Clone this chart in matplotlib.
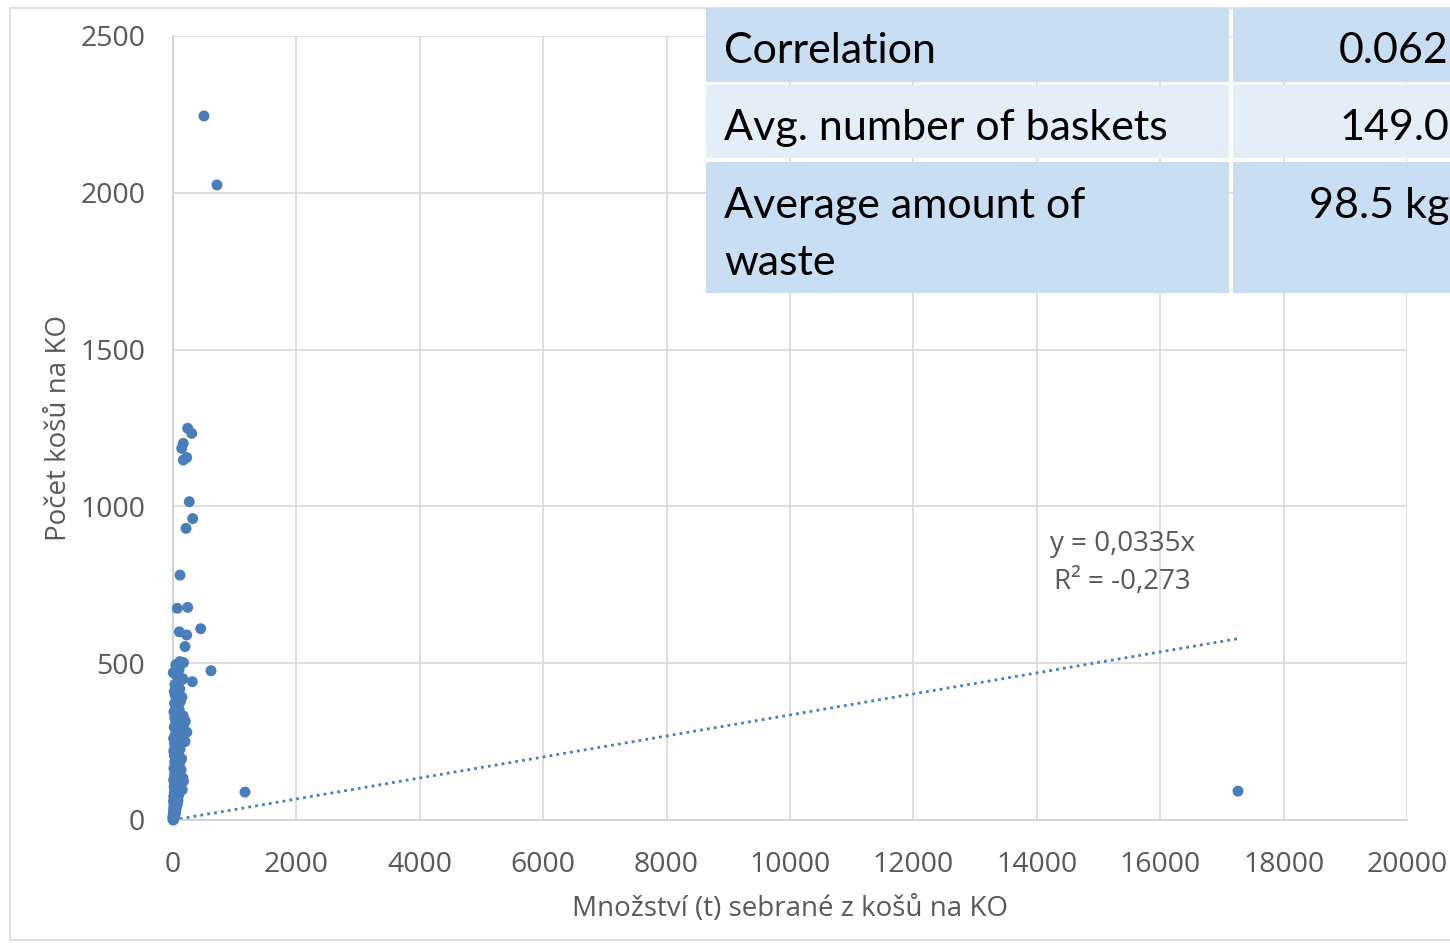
import matplotlib
matplotlib.use("Agg")
import matplotlib.pyplot as plt
from matplotlib.patches import Rectangle

# ---- data ----
outlier_x = [502, 713, 1167, 17261]
outlier_y = [2245, 2025, 89, 92]

mid_x = [238, 303, 167, 141, 222, 167, 264, 319, 211, 113, 70, 238, 449, 103, 222, 195, 616, 313, 157]
mid_y = [1249, 1233, 1201, 1185, 1156, 1148, 1015, 961, 930, 781, 675, 678, 610, 600, 590, 553, 476, 441, 451]

dense_x = [5, 10, 15, 20, 3, 25, 8, 30, 12, 40, 6, 18, 35, 50, 10, 22, 45, 60, 15, 28,
           70, 38, 55, 8, 80, 25, 42, 65, 12, 90, 33, 50, 20, 75, 100, 150, 40, 62, 18, 85,
           30, 120, 55, 170, 10, 45, 160, 70, 25, 95, 35, 58, 130, 15, 80, 48, 105, 28, 65, 140,
           40, 20, 88, 55, 12, 115, 35, 70, 25, 195, 50, 10, 150, 78, 38, 225, 60, 110, 20, 90,
           175, 45, 200, 130, 30, 165, 70, 15, 100, 50, 80, 25, 120, 60, 145, 35, 85, 20, 110, 55,
           30, 150, 70, 20, 5, 100, 60, 90, 140, 170, 110, 45, 2, 4, 1, 6, 3, 2]
dense_y = [0, 2, 5, 8, 10, 12, 15, 18, 20, 22, 25, 28, 30, 33, 36, 40, 42, 45, 48, 50,
           52, 55, 58, 60, 62, 65, 68, 72, 75, 78, 80, 84, 88, 90, 93, 96, 98, 102, 106, 110,
           115, 118, 122, 124, 128, 132, 134, 138, 142, 146, 150, 155, 160, 165, 170, 175, 180, 185, 190, 195,
           200, 206, 210, 215, 220, 226, 232, 238, 244, 250, 255, 260, 262, 268, 272, 280, 285, 290, 295, 300,
           305, 310, 315, 320, 325, 332, 338, 345, 352, 358, 365, 372, 378, 385, 392, 398, 404, 410, 418, 425,
           432, 448, 458, 468, 470, 480, 490, 498, 500, 502, 505, 495, 1, 3, 6, 4, 9, 14]

slope = 0.0335
eq_text = "y = 0,0335x\nR² = -0,273"

x_ticks = [0, 2000, 4000, 6000, 8000, 10000, 12000, 14000, 16000, 18000, 20000]
y_ticks = [0, 500, 1000, 1500, 2000, 2500]

table_labels = [["Correlation"], ["Avg. number of baskets"], ["Average amount of", "waste"]]
table_values = ["0.062", "149.0", "98.5 kg"]

# ---- figure ----
W, H = 1450, 943
fig = plt.figure(figsize=(W / 100, H / 100), dpi=100)

def fx(px):
    return px / W

def fy(py):
    return 1 - py / H

# outer chart border
fig.add_artist(Rectangle((fx(10), fy(940)), fx(1460) - fx(10), fy(8) - fy(940),
                         transform=fig.transFigure, fill=False, edgecolor="#d9d9d9", lw=1.2))

ax = fig.add_axes([fx(173), fy(820), fx(1407) - fx(173), fy(36) - fy(820)])
ax.set_xlim(0, 20000)
ax.set_ylim(0, 2500)
ax.set_xticks(x_ticks)
ax.set_yticks(y_ticks)
ax.grid(True, color="#d9d9d9", lw=1.2)
ax.set_axisbelow(True)
for s in ["top", "right"]:
    ax.spines[s].set_visible(False)
for s in ["left", "bottom"]:
    ax.spines[s].set_color("#d0d0d0")
    ax.spines[s].set_linewidth(1.2)
ax.tick_params(axis="x", length=0, pad=22, labelsize=20.5, labelcolor="#595959")
ax.tick_params(axis="y", length=0, pad=20, labelsize=20.5, labelcolor="#595959")
for lab in ax.get_xticklabels() + ax.get_yticklabels():
    lab.set_fontfamily("Open Sans")

blue = "#4a7ebb"
all_x = dense_x + mid_x + outlier_x
all_y = dense_y + mid_y + outlier_y
ax.scatter(all_x, all_y, s=62, color=blue, edgecolors="none", zorder=3, clip_on=False)

xmax = max(all_x)
ax.plot([0, xmax], [0, slope * xmax], color=blue, lw=2, ls=(0, (1, 1.5)), zorder=2)

ax.text(15381, 925, eq_text, fontsize=20, color="#595959", family="Open Sans",
        va="top", ha="center", multialignment="center", linespacing=1.5)

ax.set_xlabel("Množství (t) sebrané z košů na KO", fontsize=20, color="#595959",
              family="Open Sans", labelpad=12)
ax.set_ylabel("Počet košů na KO", fontsize=20, color="#595959",
              family="Open Sans", labelpad=5)

# ---- table overlay ----
rows = [(8, 82), (85, 158), (162, 293)]
baselines = [63, 140, 218]
colors = ["#c9def2", "#e4eef8", "#c9def2"]
for (t, b), base, c, lines, val in zip(rows, baselines, colors, table_labels, table_values):
    fig.add_artist(Rectangle((fx(706), fy(b)), fx(1229) - fx(706), fy(t) - fy(b),
                             transform=fig.transFigure, facecolor=c, edgecolor="none"))
    fig.add_artist(Rectangle((fx(1233), fy(b)), fx(1460) - fx(1233), fy(t) - fy(b),
                             transform=fig.transFigure, facecolor=c, edgecolor="none"))
    for i, line in enumerate(lines):
        fig.text(fx(724), fy(base + 57 * i), line, fontsize=31, family="Lato", color="black",
                 va="baseline", ha="left")
    fig.text(fx(1449), fy(base), val, fontsize=31, family="Lato", color="black",
             va="baseline", ha="right")

fig.savefig("out.png", dpi=100)
